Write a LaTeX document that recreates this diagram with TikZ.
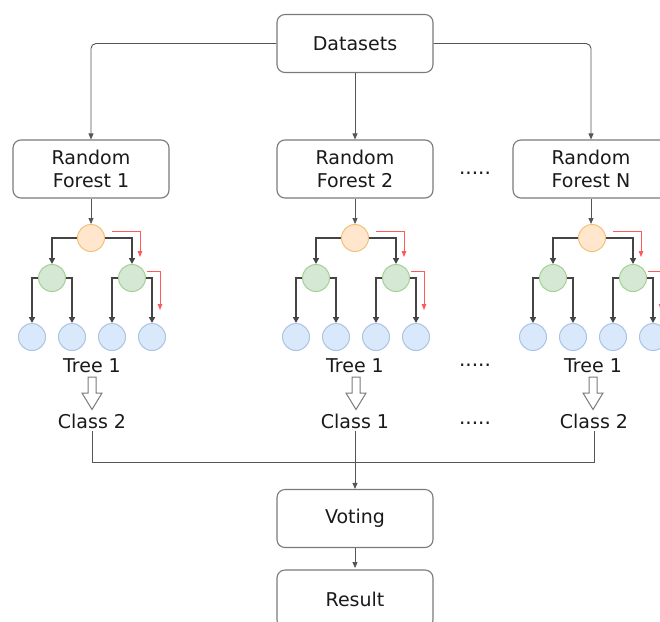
\documentclass[tikz,border=0pt]{standalone}
\usepackage{fontspec}
\setmainfont{DejaVu Sans}
\usetikzlibrary{arrows.meta,calc}
\definecolor{boxline}{HTML}{7A7A7A}
\definecolor{wire}{HTML}{555555}
\definecolor{treewire}{HTML}{444444}
\definecolor{rootfill}{HTML}{FFE6CC}\definecolor{rootline}{HTML}{F2C27A}
\definecolor{midfill}{HTML}{D5E8D4}\definecolor{midline}{HTML}{A6CF98}
\definecolor{leaffill}{HTML}{DAE8FC}\definecolor{leafline}{HTML}{A9C4E6}
\definecolor{pathred}{HTML}{FF5A5A}
\definecolor{ink}{HTML}{1A1A1A}
\tikzset{
  procbox/.style={draw=boxline, line width=1.1pt, rounded corners=8pt,
    minimum width=156pt, minimum height=58pt, align=center, text=ink,
    font=\fontsize{19}{22.5}\selectfont},
  plaintext/.style={text=ink, font=\fontsize{19}{22}\selectfont, inner sep=0pt},
  dotstext/.style={text=ink, font=\fontsize{20}{22}\selectfont, inner sep=0pt},
  rootc/.style={circle, draw=rootline, fill=rootfill, line width=1pt, minimum size=27pt, inner sep=0pt},
  midc/.style={circle, draw=midline, fill=midfill, line width=1pt, minimum size=27pt, inner sep=0pt},
  leafc/.style={circle, draw=leafline, fill=leaffill, line width=1pt, minimum size=27pt, inner sep=0pt},
  feed/.style={draw=wire, line width=0.9pt, rounded corners=5pt, -{Triangle[length=6pt,width=5pt]}},
  joinline/.style={draw=wire, line width=1pt},
  branch/.style={draw=treewire, line width=1.4pt, -{Triangle[length=6pt,width=6pt]}},
  redpath/.style={draw=pathred, line width=0.8pt, -{Triangle[length=6pt,width=4.5pt]}},
  hollow/.style={draw=boxline, line width=1pt, fill=white},
}
% one decision tree: #1 name prefix, #2 x of the root
\newcommand\foresttree[2]{%
  \node[rootc] (#1r) at (#2,238) {};
  \node[midc] (#1g1) at ($(#1r)+(-39,40)$) {};
  \node[midc] (#1g2) at ($(#1r)+(41,40)$) {};
  \node[leafc] (#1b1) at ($(#1r)+(-59,99)$) {};
  \node[leafc] (#1b2) at ($(#1r)+(-19,99)$) {};
  \node[leafc] (#1b3) at ($(#1r)+(21,99)$) {};
  \node[leafc] (#1b4) at ($(#1r)+(61,99)$) {};
  \draw[branch] (#1r.west) -| (#1g1.north);
  \draw[branch] (#1r.east) -| (#1g2.north);
  \draw[branch] (#1g1.west) -| (#1b1.north);
  \draw[branch] (#1g1.east) -| (#1b2.north);
  \draw[branch] (#1g2.west) -| (#1b3.north);
  \draw[branch] (#1g2.east) -| (#1b4.north);
  \draw[redpath] ($(#1r)+(21,-7)$) -| ($(#1r)+(49,19)$);
  \draw[redpath] ($(#1g2)+(15,-7)$) -| ($(#1g2)+(28,32)$);
}
% outlined downward block arrow under a tree label, #1 = top centre
\newcommand\blockdown[1]{%
  \draw[hollow] ($(#1)+(-4,0)$) -- ++(0,16) -- ++(-6,0) -- ++(10,16.5)
    -- ++(10,-16.5) -- ++(-6,0) -- ++(0,-16) -- cycle;
}
\begin{document}
\begin{tikzpicture}[x=1pt,y=-1pt]
  \clip (0,0) rectangle (660,621);
  \fill[white] (0,0) rectangle (660,621);

  \node[procbox] (data) at (355,43.5) {Datasets};
  \node[procbox] (rf1) at (91,169) {Random\\Forest 1};
  \node[procbox] (rf2) at (355,169) {Random\\Forest 2};
  \node[procbox] (rfn) at (591,169) {Random\\Forest N};
  \node[dotstext] (d1) at (475,173) {.....};

  \draw[feed] (data.west) -| (rf1.north);
  \draw[feed] (data.east) -| (rfn.north);
  \draw[feed] (data.south) -- (rf2.north);
  \draw[feed, rounded corners=0pt] (rf1.south) -- (rf1.south |- 0,224);
  \draw[feed, rounded corners=0pt] (rf2.south) -- (rf2.south |- 0,224);
  \draw[feed, rounded corners=0pt] (rfn.south) -- (rfn.south |- 0,224);

  \foresttree{a}{91}
  \foresttree{b}{355}
  \foresttree{c}{592}

  \node[plaintext] (t1) at (92,366) {Tree 1};
  \node[plaintext] (t2) at (355,366) {Tree 1};
  \node[plaintext] (tn) at (593,366) {Tree 1};
  \node[dotstext] (d2) at (475,365) {.....};

  \coordinate (ha) at (92,377);
  \coordinate (hb) at (356,377);
  \coordinate (hc) at (593,377);
  \blockdown{ha}
  \blockdown{hb}
  \blockdown{hc}

  \node[plaintext] (c1) at (92,421) {Class 2};
  \node[plaintext] (c2) at (355,421) {Class 1};
  \node[plaintext] (cn) at (594,421) {Class 2};
  \node[dotstext] (d3) at (475,423) {.....};

  \node[procbox] (vote) at (355,518.5) {Voting};
  \node[procbox] (res) at (355,599) {Result};

  \coordinate (jn) at (355,462.5);
  \draw[joinline] ($(c1.south)+(0,2)$) |- (jn) -| ($(cn.south)+(0,2)$);
  \draw[feed] ($(c2.south)+(0,2)$) -- (vote.north);
  \draw[feed] (vote.south) -- (vote.south |- 0,568);
\end{tikzpicture}
\end{document}
